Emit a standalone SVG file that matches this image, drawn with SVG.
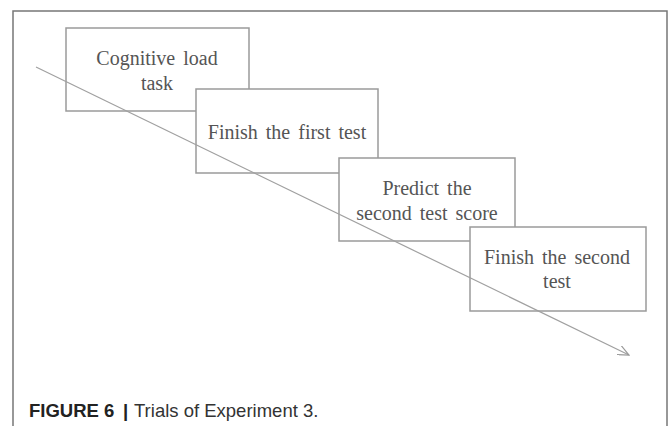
<svg xmlns="http://www.w3.org/2000/svg" width="668" height="426" viewBox="0 0 668 426">
<style>
.box{fill:#fff;stroke:#9a9a9a;stroke-width:1.5}
.t{font-family:"Liberation Serif","Times New Roman",serif;font-size:20px;fill:#555;text-anchor:middle;word-spacing:3px}
.frame{fill:none;stroke:#777;stroke-width:1.5}
.cap{font-family:"Liberation Sans",Arial,sans-serif;font-size:18.5px;fill:#333}
.b{font-weight:bold;fill:#222}
</style>
<defs>
<marker id="ah" viewBox="0 0 12 10" refX="11" refY="5" markerWidth="12" markerHeight="10" markerUnits="userSpaceOnUse" orient="auto">
<path d="M0,0 L11,5 L0,10" fill="none" stroke="#999" stroke-width="1.2"/>
</marker>
</defs>
<path class="frame" d="M13,426 V11 H667 V426"/>
<g id="n1"><rect class="box" x="66" y="28" width="183" height="83"/>
<text class="t" x="157" y="65">Cognitive load</text><text class="t" x="157" y="90">task</text></g>
<g id="n2"><rect class="box" x="196" y="89" width="182" height="84"/>
<text class="t" x="287" y="139">Finish the first test</text></g>
<g id="n3"><rect class="box" x="339" y="158" width="176" height="83"/>
<text class="t" x="427" y="195">Predict the</text><text class="t" x="427" y="220">second test  score</text></g>
<g id="n4"><rect class="box" x="470" y="227" width="176" height="84"/>
<text class="t" x="557" y="264">Finish the second</text><text class="t" x="557" y="288">test</text></g>
<g id="connectors"><line x1="36" y1="67" x2="629" y2="355" stroke="#a0a0a0" stroke-width="1.2" marker-end="url(#ah)"/></g>
<text class="cap" y="417"><tspan class="b" x="29">FIGURE 6</tspan><tspan class="b" x="123">|</tspan><tspan x="134">Trials of Experiment 3.</tspan></text>
</svg>
